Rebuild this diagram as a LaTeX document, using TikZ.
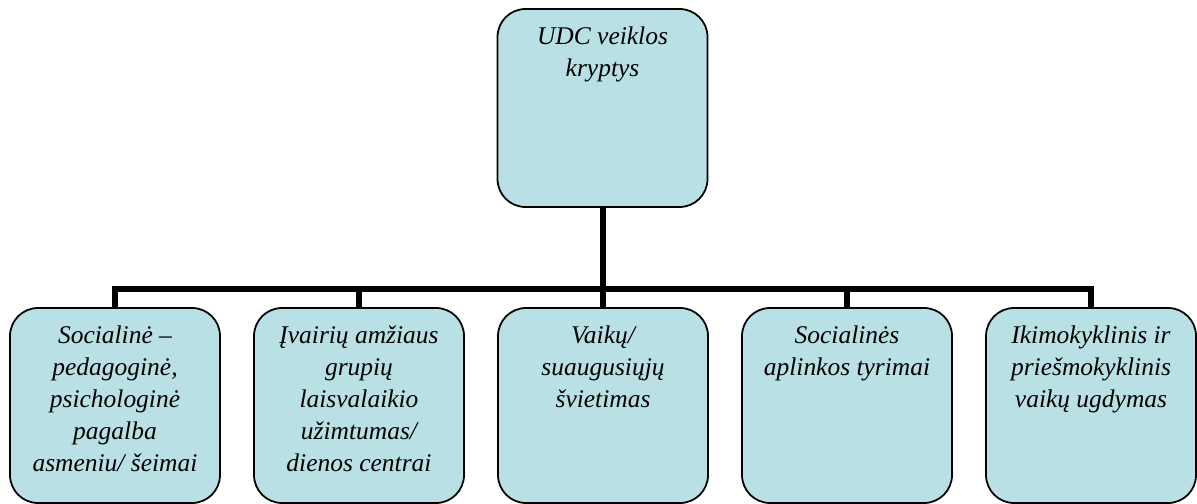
\documentclass[tikz,border=0pt]{standalone}
\usepackage{fontspec}
\setmainfont{Liberation Serif}
\usetikzlibrary{positioning}
\definecolor{boxfill}{RGB}{185,224,228}

\begin{document}
\begin{tikzpicture}[
  kryptis/.style={draw,rounded corners=0.56cm,fill=boxfill,line width=1pt,minimum width=4.2cm,minimum height=3.9cm},
  tekstas/.style={align=center,font=\fontsize{14.5}{18.2}\selectfont\itshape,inner sep=0pt,anchor=north},
  jungtis/.style={line width=0.12cm}
]
\useasboundingbox (0,0) rectangle (23.94,-10.08);

\node[kryptis,minimum height=3.96cm] (UDC) at (12.05,-2.16) {};
\node[tekstas] (UDCt) at ([yshift=-0.37cm]UDC.north) {UDC veiklos\\kryptys};

\foreach \txt [count=\n] in
  {{Socialinė –\\pedagoginė,\\psichologinė\\pagalba\\asmeniu/ šeimai},
   {Įvairių amžiaus\\grupių\\laisvalaikio\\užimtumas/\\dienos centrai},
   {Vaikų/\\suaugusiųjų\\švietimas},
   {Socialinės\\aplinkos tyrimai},
   {Ikimokyklinis ir\\priešmokyklinis\\vaikų ugdymas}}
  {
  \node[kryptis,xshift=\n*4.88cm] (K\n) at (-2.58,-8.11) {};
  \node[tekstas] (T\n) at ([yshift=-0.37cm]K\n.north) {\txt};
  }

\coordinate (bus) at (0,-5.78);
\draw[jungtis] (UDC.south) -- (UDC.south |- bus);
\draw[jungtis] (K1.north) -- (K1.north |- bus) -- (K5.north |- bus) -- (K5.north);
\foreach \i in {2,3,4}
  \draw[jungtis] (K\i.north |- bus) -- (K\i.north);
\end{tikzpicture}
\end{document}
